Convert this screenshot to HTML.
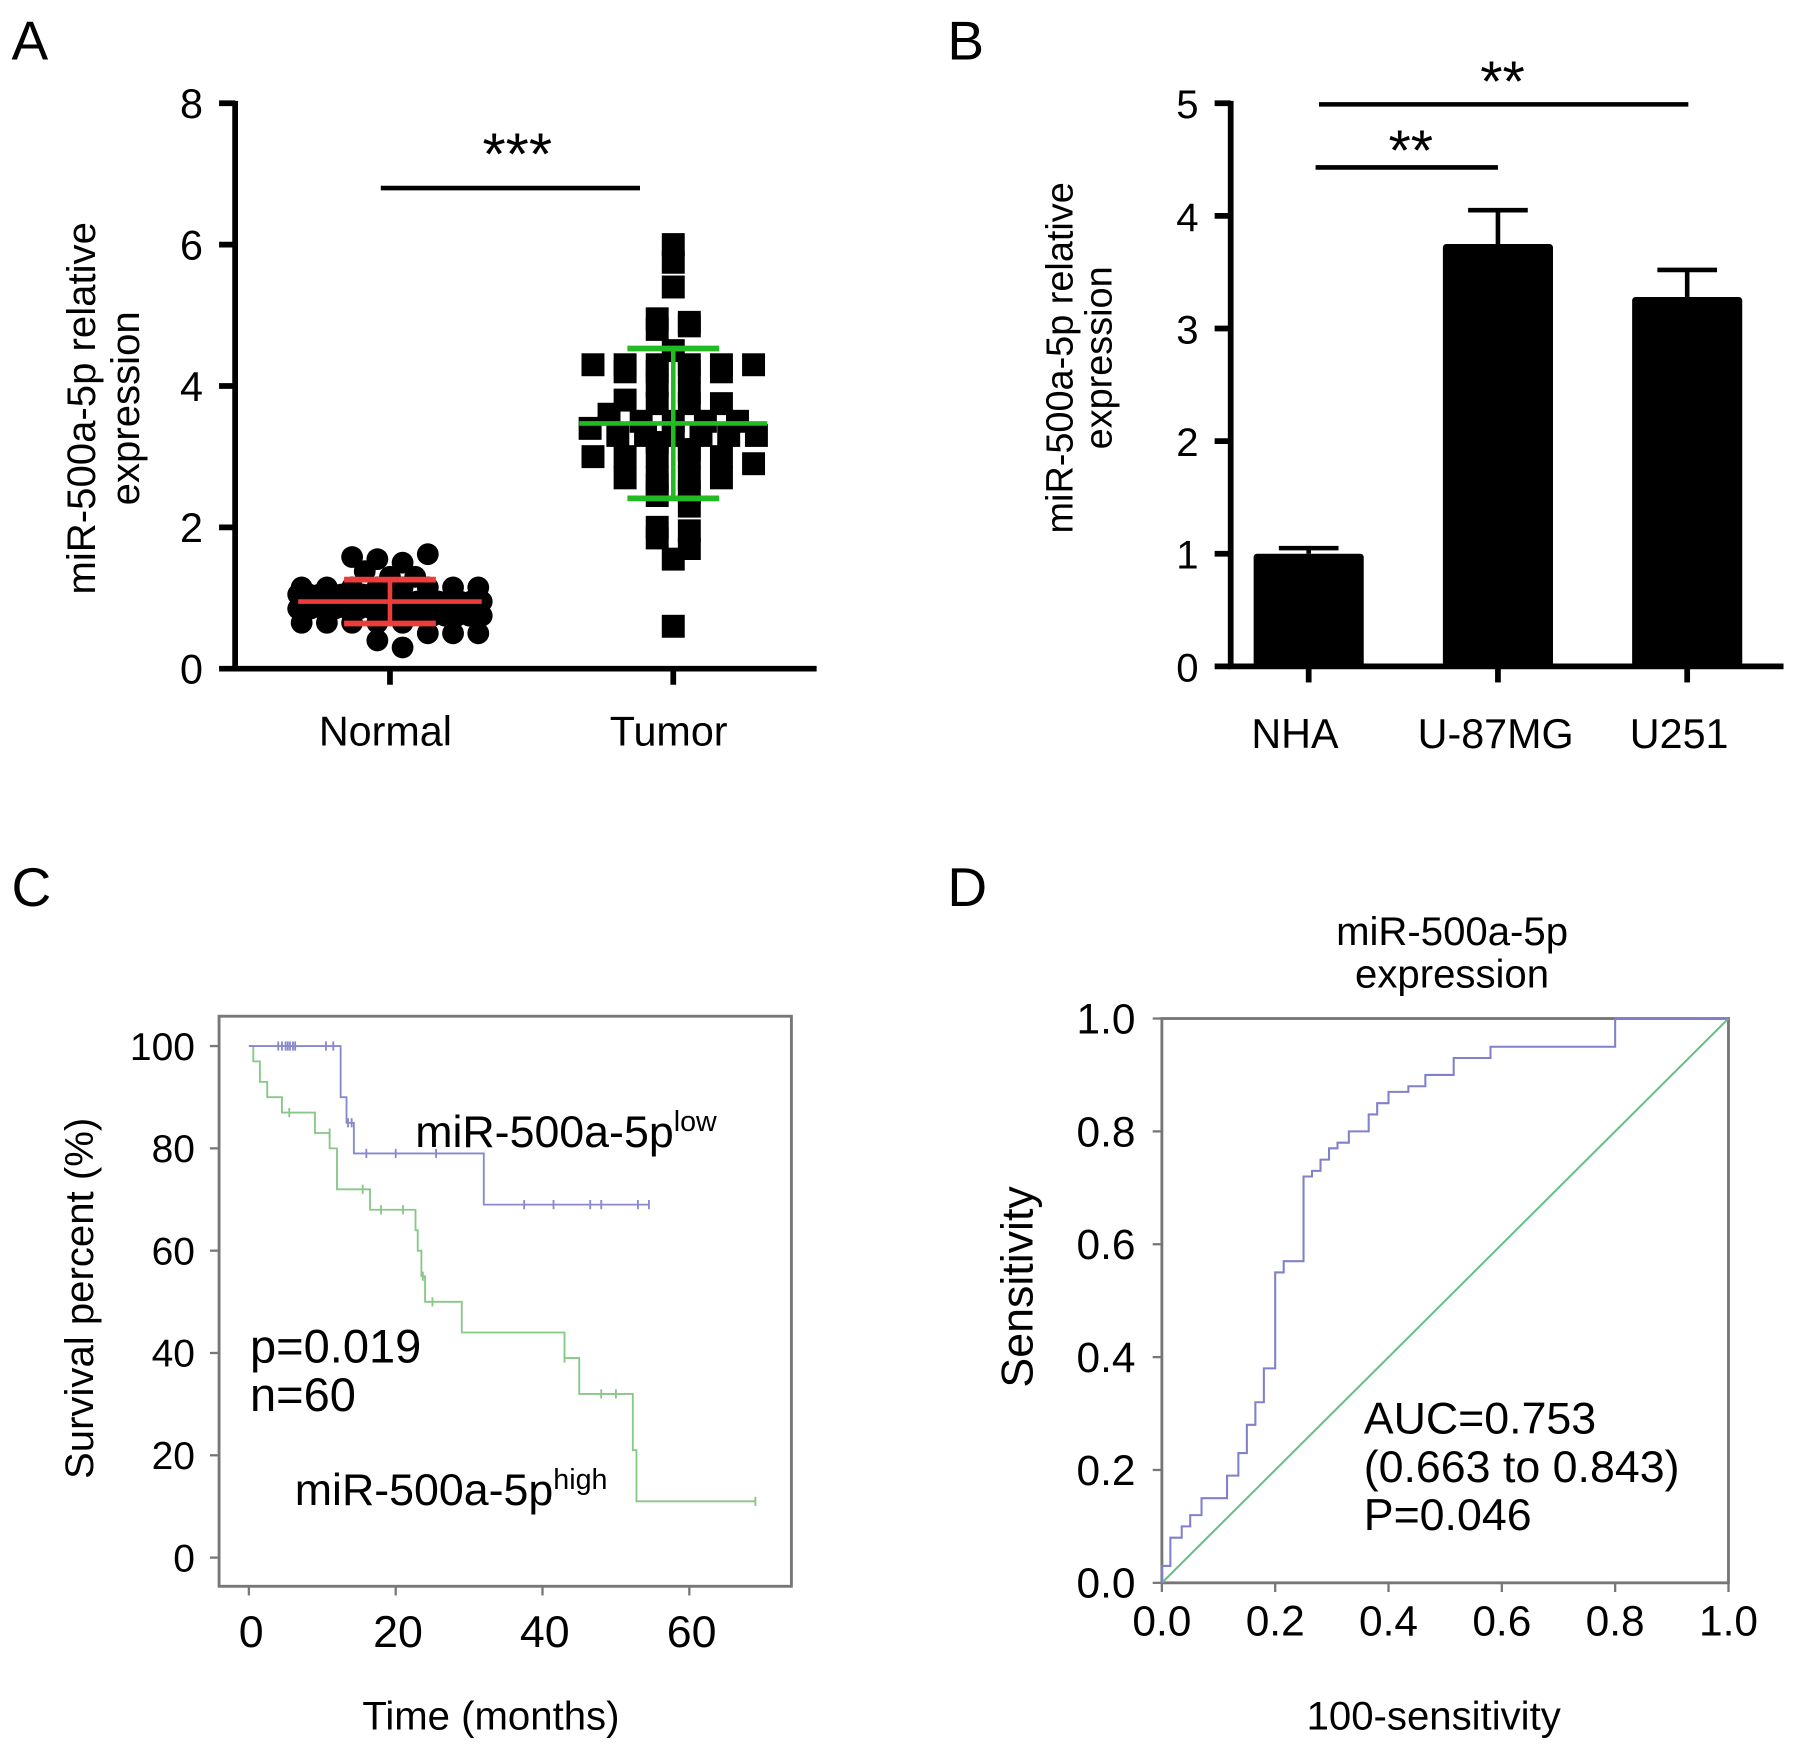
<!DOCTYPE html>
<html><head><meta charset="utf-8"><style>
html,body{margin:0;padding:0;background:#fff;}
svg{display:block;font-family:"Liberation Sans",Arial,sans-serif;}
</style></head><body>
<svg id="fig" width="1795" height="1748" viewBox="0 0 1565 1524" preserveAspectRatio="none" xmlns="http://www.w3.org/2000/svg">
<g id="pA"></g>
<g id="pB"></g>
<g id="pC"></g>
<g id="pD"></g>
</svg>
<script>
// Panel A data
const aCategories = ["Normal", "Tumor"];
const aTicks = [0, 2, 4, 6, 8];
const normalValues = [1.58,1.55,1.5,1.38,1.3,1.3,1.62,1.15,1.15,1.15,1.15,1.15,1.15,1.15,1.15,1.05,1.05,1.05,1.05,1.05,1.05,1.05,1.05,0.95,0.95,0.95,0.95,0.95,0.95,0.95,0.95,0.95,0.95,0.85,0.85,0.85,0.85,0.85,0.85,0.85,0.85,0.75,0.75,0.75,0.75,0.75,0.75,0.75,0.75,0.65,0.65,0.65,0.65,0.65,0.5,0.5,0.5,0.4,0.3];
const tumorValues = [6.0,5.75,5.4,4.95,4.9,4.8,4.85,4.5,4.3,4.3,4.3,4.3,4.3,4.3,4.2,4.2,4.2,4.2,4.0,3.9,3.8,3.75,3.75,3.75,3.6,3.5,3.5,3.5,3.5,3.4,3.3,3.3,3.3,3.3,3.3,3.3,3.2,3.1,3.0,3.0,3.0,3.0,3.0,2.9,2.7,2.7,2.7,2.7,2.6,2.5,2.45,2.3,2.0,1.95,1.85,1.7,1.55,0.6];
const aMean = [0.95, 3.47];
const aSD = [0.31, 1.06];
// Panel B data
const bCategories = ["NHA", "U-87MG", "U251"];
const bValues = [1.0, 3.75, 3.28];
const bErrors = [0.05, 0.3, 0.24];
const bTicks = [0, 1, 2, 3, 4, 5];
// Panel C data
const lowTimes = [0, 12.5, 12.5, 13.3, 13.3, 14.3, 14.3, 32, 32, 54.5];
const lowSurv = [100, 100, 90, 90, 85, 85, 79, 79, 69, 69];
const lowCensor = [4,4.5,5,5.3,5.6,6,6.3,10.5,11.5,13.5,14,16,20,25.5,37.5,41.5,46.5,48,53,54.5];
const lowCensorSurv = [100,100,100,100,100,100,100,100,100,85,85,79,79,79,69,69,69,69,69,69];
const highTimes = [0,0.6,0.6,1.5,1.5,2.5,2.5,4.5,4.5,9,9,11,11,12,12,16.5,16.5,22.7,22.7,23,23,23.5,23.5,24,24,29,29,43,43,45,45,52.3,52.3,52.8,52.8,69];
const highSurv = [100,100,97,97,93,93,90,90,87,87,83,83,80,80,72,72,68,68,64,64,60,60,55,55,50,50,44,44,39,39,32,32,21,21,11,11];
const highCensor = [5.5,11,15.5,18,21,23.7,25,43,48,50,69];
const highCensorSurv = [87,83,72,68,68,55,50,39,32,32,11];
const cXTicks = [0, 20, 40, 60];
const cYTicks = [0, 20, 40, 60, 80, 100];
// Panel D data
const rocFpr = [0,0,0.015,0.015,0.035,0.035,0.05,0.05,0.07,0.07,0.115,0.115,0.135,0.135,0.15,0.15,0.165,0.165,0.18,0.18,0.2,0.2,0.215,0.215,0.25,0.25,0.265,0.265,0.28,0.28,0.295,0.295,0.31,0.31,0.33,0.33,0.365,0.365,0.38,0.38,0.4,0.4,0.435,0.435,0.465,0.465,0.515,0.515,0.58,0.58,0.8,0.8,1.0];
const rocTpr = [0,0.03,0.03,0.08,0.08,0.1,0.1,0.12,0.12,0.15,0.15,0.19,0.19,0.23,0.23,0.28,0.28,0.32,0.32,0.38,0.38,0.55,0.55,0.57,0.57,0.72,0.72,0.73,0.73,0.75,0.75,0.77,0.77,0.78,0.78,0.8,0.8,0.83,0.83,0.85,0.85,0.87,0.87,0.88,0.88,0.9,0.9,0.93,0.93,0.95,0.95,1.0,1.0];
const dTicks = [0, 0.2, 0.4, 0.6, 0.8, 1.0];

const NS = "http://www.w3.org/2000/svg";
function mk(parent, tag, attrs, text) {
  const e = document.createElementNS(NS, tag);
  for (const k in attrs) e.setAttribute(k, attrs[k]);
  if (text !== undefined) e.textContent = text;
  parent.appendChild(e);
  return e;
}
function fmt(v){return v.toFixed(1);}

// ---------- Panel A ----------
(function(){
  const g = document.getElementById('pA');
  const x0 = 205, x1 = 712, yTop = 90, yBot = 583;
  const y = v => yBot - v / 8 * (yBot - yTop);
  const cx = [340, 587];
  let t = mk(g,'text',{x:10,y:52,'font-size':48});
  t.textContent='A';
  
  
  let ax = mk(g,'line',{x1:x0,y1:yTop-2,x2:x0,y2:yBot+2,stroke:'#000','stroke-width':5});
  
  
  let bx = mk(g,'line',{x1:x0-2,y1:yBot,x2:x1,y2:yBot,stroke:'#000','stroke-width':5});
  
  
  aTicks.forEach(v=>{
    mk(g,'line',{x1:x0-14,y1:y(v),x2:x0,y2:y(v),stroke:'#000','stroke-width':5});
    const tl = mk(g,'text',{x:x0-28,y:y(v)+13,'font-size':36,'text-anchor':'end'},String(v));
    
    
  });
  aCategories.forEach((c,i)=>{
    mk(g,'line',{x1:cx[i],y1:yBot,x2:cx[i],y2:yBot+14,stroke:'#000','stroke-width':5});
    const tl = mk(g,'text',{x:cx[i]-4,y:650,'font-size':36,'text-anchor':'middle'},c);
    
    
  });
  const yt = mk(g,'text',{transform:'translate(83,356) rotate(-90)','font-size':35,'text-anchor':'middle'});
  
  
  mk(yt,'tspan',{x:0,y:0},'miR-500a-5p relative');
  mk(yt,'tspan',{x:0,y:38},'expression');
  const sl = mk(g,'line',{x1:332,y1:164,x2:558,y2:164,stroke:'#000','stroke-width':4});
  
  
  const st = mk(g,'text',{x:451,y:152,'font-size':52,'text-anchor':'middle'},'***');
  
  
  function scatter(vals, idx, spacing, maxW, square){
    const bins = {};
    vals.forEach(v=>{const k=Math.round(v*5); (bins[k]=bins[k]||[]).push(v);});
    Object.keys(bins).forEach(k=>{
      const arr = bins[k]; const n = arr.length;
      const sp = n>1 ? Math.min(spacing, maxW/(n-1)) : 0;
      arr.forEach((v,j)=>{
        const off = (j-(n-1)/2)*sp;
        let m;
        if(square){ m = mk(g,'rect',{x:cx[idx]+off-10,y:y(v)-10,width:20,height:20,fill:'#000'}); }
        else { m = mk(g,'circle',{cx:cx[idx]+off,cy:y(v),r:9.5,fill:'#000'}); }
        
        
      });
    });
  }
  scatter(normalValues,0,22,160,false);
  scatter(tumorValues,1,28,145,true);
  const cols=['#ee3b3b','#22bb22'];
  [0,1].forEach(i=>{
    const c = cols[i];
    const w = i===0?80:82, cw = 40;
    const m = mk(g,'line',{x1:cx[i]-w,y1:y(aMean[i]),x2:cx[i]+w,y2:y(aMean[i]),stroke:c,'stroke-width':4});
    
    
    const e = mk(g,'line',{x1:cx[i],y1:y(aMean[i]+aSD[i]),x2:cx[i],y2:y(aMean[i]-aSD[i]),stroke:c,'stroke-width':4});
    
    
    mk(g,'line',{x1:cx[i]-cw,y1:y(aMean[i]+aSD[i]),x2:cx[i]+cw,y2:y(aMean[i]+aSD[i]),stroke:c,'stroke-width':5});
    mk(g,'line',{x1:cx[i]-cw,y1:y(aMean[i]-aSD[i]),x2:cx[i]+cw,y2:y(aMean[i]-aSD[i]),stroke:c,'stroke-width':5});
  });
})();

// ---------- Panel B ----------
(function(){
  const g = document.getElementById('pB');
  const x0 = 1073, x1 = 1555, yTop = 90, yBot = 581;
  const y = v => yBot - v / 5 * (yBot - yTop);
  const cx = [1141, 1306, 1471], bw = 96;
  let t = mk(g,'text',{x:826,y:52,'font-size':48});
  t.textContent='B';
  
  
  bValues.forEach((v,i)=>{
    const e = mk(g,'line',{x1:cx[i],y1:y(v),x2:cx[i],y2:y(v+bErrors[i]),stroke:'#000','stroke-width':4});
    
    
    mk(g,'line',{x1:cx[i]-26,y1:y(v+bErrors[i]),x2:cx[i]+26,y2:y(v+bErrors[i]),stroke:'#000','stroke-width':4});
    const r = mk(g,'rect',{x:cx[i]-bw/2,y:y(v),width:bw,height:yBot-y(v),fill:'#000',rx:3});
    
    
    mk(g,'line',{x1:cx[i],y1:yBot,x2:cx[i],y2:yBot+14,stroke:'#000','stroke-width':5});
    const tl = mk(g,'text',{x:cx[i]-12+(i===1?10:0)+(i===2?5:0),y:652,'font-size':36,'text-anchor':'middle'},bCategories[i]);
    
    
  });
  let ax = mk(g,'line',{x1:x0,y1:yTop-2,x2:x0,y2:yBot+2,stroke:'#000','stroke-width':5});
  
  
  let bx = mk(g,'line',{x1:x0-2,y1:yBot,x2:x1,y2:yBot,stroke:'#000','stroke-width':5});
  
  
  bTicks.forEach(v=>{
    mk(g,'line',{x1:x0-14,y1:y(v),x2:x0,y2:y(v),stroke:'#000','stroke-width':5});
    const tl = mk(g,'text',{x:x0-28,y:y(v)+13,'font-size':35,'text-anchor':'end'},String(v));
    
    
  });
  const yt = mk(g,'text',{transform:'translate(935,312) rotate(-90)','font-size':33,'text-anchor':'middle'});
  
  
  mk(yt,'tspan',{x:0,y:0},'miR-500a-5p relative');
  mk(yt,'tspan',{x:0,y:34},'expression');
  const s1 = mk(g,'line',{x1:1147,y1:146,x2:1306,y2:146,stroke:'#000','stroke-width':4});
  
  
  const t1 = mk(g,'text',{x:1230,y:148,'font-size':50,'text-anchor':'middle'},'**');
  
  
  const s2 = mk(g,'line',{x1:1150,y1:91,x2:1472,y2:91,stroke:'#000','stroke-width':4});
  
  
  const t2 = mk(g,'text',{x:1310,y:88,'font-size':50,'text-anchor':'middle'},'**');
  
  
})();

// ---------- Panel C ----------
(function(){
  const g = document.getElementById('pC');
  const bx0=191,bx1=690,by0=886,by1=1383;
  const X = m => 217 + m*6.4;
  const Y = s => 1358 - s*4.46;
  let t = mk(g,'text',{x:10,y:790,'font-size':48});
  t.textContent='C';
  
  
  const box = mk(g,'rect',{x:bx0,y:by0,width:bx1-bx0,height:by1-by0,fill:'none',stroke:'#777','stroke-width':2.5});
  
  
  cYTicks.forEach(v=>{
    mk(g,'line',{x1:bx0-8,y1:Y(v),x2:bx0,y2:Y(v),stroke:'#777','stroke-width':2});
    const tl = mk(g,'text',{x:170,y:Y(v)+12,'font-size':34,'text-anchor':'end'},String(v));
    
    
  });
  cXTicks.forEach(v=>{
    mk(g,'line',{x1:X(v),y1:by1,x2:X(v),y2:by1+8,stroke:'#777','stroke-width':2});
    const tl = mk(g,'text',{x:X(v)+2,y:1436,'font-size':39,'text-anchor':'middle'},String(v));
    
    
  });
  const xt = mk(g,'text',{x:428,y:1508,'font-size':35,'text-anchor':'middle'},'Time (months)');
  
  
  const yt = mk(g,'text',{transform:'translate(81,1132) rotate(-90)','font-size':35,'text-anchor':'middle'},'Survival percent (%)');
  
  
  function curve(ts,ss,ct,cs,color,name){
    const d = ts.map((tt,i)=>(i?'L':'M')+X(tt)+','+Y(ss[i])).join(' ');
    const p = mk(g,'path',{d:d,fill:'none',stroke:color,'stroke-width':1.6});
    
    
    ct.forEach((tt,i)=>{
      const c = mk(g,'line',{x1:X(tt),y1:Y(cs[i])-4,x2:X(tt),y2:Y(cs[i])+4,stroke:color,'stroke-width':1.6});
      
      
    });
  }
  curve(highTimes,highSurv,highCensor,highCensorSurv,'#86c886','high-expression-curve');
  curve(lowTimes,lowSurv,lowCensor,lowCensorSurv,'#8888cc','low-expression-curve');
  const l1 = mk(g,'text',{x:362,y:1000,'font-size':39});
  
  
  l1.appendChild(document.createTextNode('miR-500a-5p'));
  mk(l1,'tspan',{'font-size':25,dy:-14},'low');
  const l2 = mk(g,'text',{x:257,y:1312,'font-size':39});
  
  
  l2.appendChild(document.createTextNode('miR-500a-5p'));
  mk(l2,'tspan',{'font-size':25,dy:-14},'high');
  const pt = mk(g,'text',{x:218,y:1188,'font-size':41},'p=0.019');
  
  
  const nt = mk(g,'text',{x:218,y:1230,'font-size':41},'n=60');
  
  
})();

// ---------- Panel D ----------
(function(){
  const g = document.getElementById('pD');
  const x0=1013,x1=1507,y0=888,y1=1380;
  const X = v => x0 + v*(x1-x0);
  const Y = v => y1 - v*(y1-y0);
  let t = mk(g,'text',{x:826,y:790,'font-size':48});
  t.textContent='D';
  
  
  const tt = mk(g,'text',{x:1266,y:824,'font-size':35,'text-anchor':'middle'},'miR-500a-5p');
  
  
  mk(g,'text',{x:1266,y:861,'font-size':35,'text-anchor':'middle'},'expression');
  const box = mk(g,'rect',{x:x0,y:y0,width:x1-x0,height:y1-y0,fill:'none',stroke:'#777','stroke-width':2.5});
  
  
  dTicks.forEach(v=>{
    mk(g,'line',{x1:x0-8,y1:Y(v),x2:x0,y2:Y(v),stroke:'#777','stroke-width':2});
    const tl = mk(g,'text',{x:990,y:Y(v)+13,'font-size':37,'text-anchor':'end'},fmt(v));
    
    
    mk(g,'line',{x1:X(v),y1:y1,x2:X(v),y2:y1+8,stroke:'#777','stroke-width':2});
    const xl = mk(g,'text',{x:X(v),y:1426,'font-size':37,'text-anchor':'middle'},fmt(v));
    
    
  });
  const diag = mk(g,'line',{x1:X(0),y1:Y(0),x2:X(1),y2:Y(1),stroke:'#66c08a','stroke-width':1.8});
  
  
  const d = rocFpr.map((f,i)=>(i?'L':'M')+X(f)+','+Y(rocTpr[i])).join(' ');
  const roc = mk(g,'path',{d:d,fill:'none',stroke:'#8080cc','stroke-width':1.8});
  
  
  const yt = mk(g,'text',{transform:'translate(900,1122) rotate(-90)','font-size':39,'text-anchor':'middle'},'Sensitivity');
  
  
  const xt = mk(g,'text',{x:1250,y:1508,'font-size':35,'text-anchor':'middle'},'100-sensitivity');
  
  
  const a1 = mk(g,'text',{x:1189,y:1250,'font-size':39},'AUC=0.753');
  
  
  const a2 = mk(g,'text',{x:1189,y:1292,'font-size':39},'(0.663 to 0.843)');
  
  
  const a3 = mk(g,'text',{x:1189,y:1334,'font-size':39},'P=0.046');
  
  
})();
</script>
</body></html>
